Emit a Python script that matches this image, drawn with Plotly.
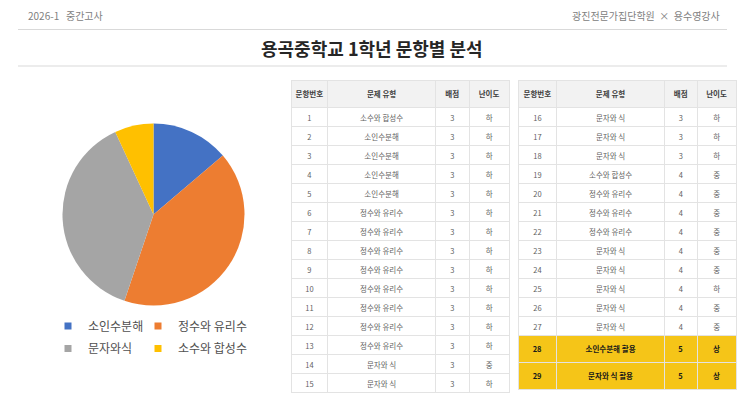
import plotly.graph_objects as go

W, H = 743, 418
FONT = "Noto Sans CJK KR"

# ---------------- data ----------------
pie_labels = ['소인수분해', '정수와 유리수', '문자와식', '소수와 합성수']
pie_values = [4, 12, 11, 2]
pie_colors = ['#4472C4', '#ED7D31', '#A5A5A5', '#FFC000']

header_labels = ['문항번호', '문제 유형', '배점', '난이도']

q_no_1 = ['1', '2', '3', '4', '5', '6', '7', '8', '9', '10', '11', '12', '13', '14', '15']
q_type_1 = ['소수와 합성수', '소인수분해', '소인수분해', '소인수분해', '소인수분해',
            '정수와 유리수', '정수와 유리수', '정수와 유리수', '정수와 유리수', '정수와 유리수',
            '정수와 유리수', '정수와 유리수', '정수와 유리수', '문자와 식', '문자와 식']
q_score_1 = [3, 3, 3, 3, 3, 3, 3, 3, 3, 3, 3, 3, 3, 3, 3]
q_level_1 = ['하', '하', '하', '하', '하', '하', '하', '하', '하', '하', '하', '하', '하', '중', '하']

q_no_2 = ['16', '17', '18', '19', '20', '21', '22', '23', '24', '25', '26', '27', '28', '29']
q_type_2 = ['문자와 식', '문자와 식', '문자와 식', '소수와 합성수', '정수와 유리수',
            '정수와 유리수', '정수와 유리수', '문자와 식', '문자와 식', '문자와 식',
            '문자와 식', '문자와 식', '소인수분해 활용', '문자와 식 활용']
q_score_2 = [3, 3, 3, 4, 4, 4, 4, 4, 4, 4, 4, 4, 5, 5]
q_level_2 = ['하', '하', '하', '중', '중', '중', '중', '중', '중', '하', '중', '중', '상', '상']
highlight_2 = [False] * 12 + [True, True]

# ---------------- helpers ----------------
def px_x(v):
    return v / W

def px_y(v):
    return 1 - v / H

HEAD_FILL = '#F2F2F2'
LINE_C = '#E3E3E3'
YELLOW = '#F5C518'
TXT = '#5F5F5F'


def make_table(cols, highlight, x0, x1, widths):
    n = len(cols[0])
    hl = highlight if highlight is not None else [False] * n
    vals = []
    for col in cols:
        vals.append([f'<b>{v}</b>' if h else str(v) for v, h in zip(col, hl)])
    fills = [[YELLOW if h else 'white' for h in hl] for _ in cols]
    fcol = [['#1A1A1A' if h else TXT for h in hl] for _ in cols]
    return go.Table(
        domain=dict(x=[px_x(x0), px_x(x1)], y=[px_y(402), px_y(80)]),
        columnwidth=widths,
        header=dict(values=[f'<b>{h}</b>' for h in header_labels],
                    fill_color=HEAD_FILL, line_color=LINE_C, line_width=1,
                    align='center', height=26,
                    font=dict(family=FONT, size=7.5, color='#404040')),
        cells=dict(values=vals, fill_color=fills, line_color=LINE_C, line_width=1,
                   align='center', height=19,
                   font=dict(family=FONT, size=7.5, color=fcol)),
    )


fig = go.Figure()

fig.add_trace(go.Pie(
    labels=pie_labels, values=pie_values, sort=False, direction='clockwise', rotation=0,
    marker=dict(colors=pie_colors, line=dict(width=0)), textinfo='none',
    showlegend=False, hoverinfo='label+value',
    domain=dict(x=[px_x(62.5), px_x(244.5)], y=[px_y(305.5), px_y(123.5)]),
))

# legend entries (2 x 2 layout): first column narrow slot, second column wide enough for its text
for i, (lab, col) in enumerate(zip(pie_labels, pie_colors)):
    fig.add_trace(go.Scatter(
        x=[None], y=[None], mode='markers', name=lab,
        marker=dict(symbol='square', size=7, color=col),
        legendwidth=45 if i % 2 == 0 else 90,
        legend='legend' if i < 2 else 'legend2', showlegend=True, hoverinfo='skip'))

fig.add_trace(make_table([q_no_1, q_type_1, q_score_1, q_level_1], None, 291, 510, [37, 108, 34, 40]))
fig.add_trace(make_table([q_no_2, q_type_2, q_score_2, q_level_2], highlight_2, 518, 737, [39, 108, 33, 39]))

leg_common = dict(orientation='h', x=px_x(48), xanchor='left', yanchor='middle',
                  itemwidth=30, bgcolor='rgba(0,0,0,0)',
                  font=dict(family=FONT, size=12, color='#505050'))

fig.update_layout(
    width=W, height=H, margin=dict(l=0, r=0, t=0, b=0),
    paper_bgcolor='white', plot_bgcolor='white',
    font=dict(family=FONT),
    xaxis=dict(visible=False), yaxis=dict(visible=False),
    legend=dict(y=px_y(326), **leg_common),
    legend2=dict(y=px_y(348.5), **leg_common),
    shapes=[
        dict(type='line', xref='paper', yref='paper', x0=px_x(18), x1=px_x(727),
             y0=px_y(29.5), y1=px_y(29.5), line=dict(color='#D9D9D9', width=1)),
        dict(type='line', xref='paper', yref='paper', x0=px_x(18), x1=px_x(727),
             y0=px_y(66), y1=px_y(66), line=dict(color='#D9D9D9', width=1)),
    ],
    annotations=[
        dict(text='2026-1&nbsp;&nbsp;&nbsp;중간고사', x=px_x(26), y=px_y(16), xref='paper', yref='paper',
             xanchor='left', yanchor='middle', showarrow=False,
             font=dict(family=FONT, size=10, color='#808080')),
        dict(text='광진전문가집단학원&nbsp;&nbsp;×&nbsp;&nbsp;용수영강사', x=px_x(722), y=px_y(16),
             xref='paper', yref='paper', xanchor='right', yanchor='middle', showarrow=False,
             font=dict(family=FONT, size=10, color='#808080')),
        dict(text='<b>용곡중학교 1학년 문항별 분석</b>', x=px_x(372), y=px_y(48),
             xref='paper', yref='paper', xanchor='center', yanchor='middle', showarrow=False,
             font=dict(family=FONT, size=18, color='#262626')),
    ],
)

fig.write_html("out.html")
